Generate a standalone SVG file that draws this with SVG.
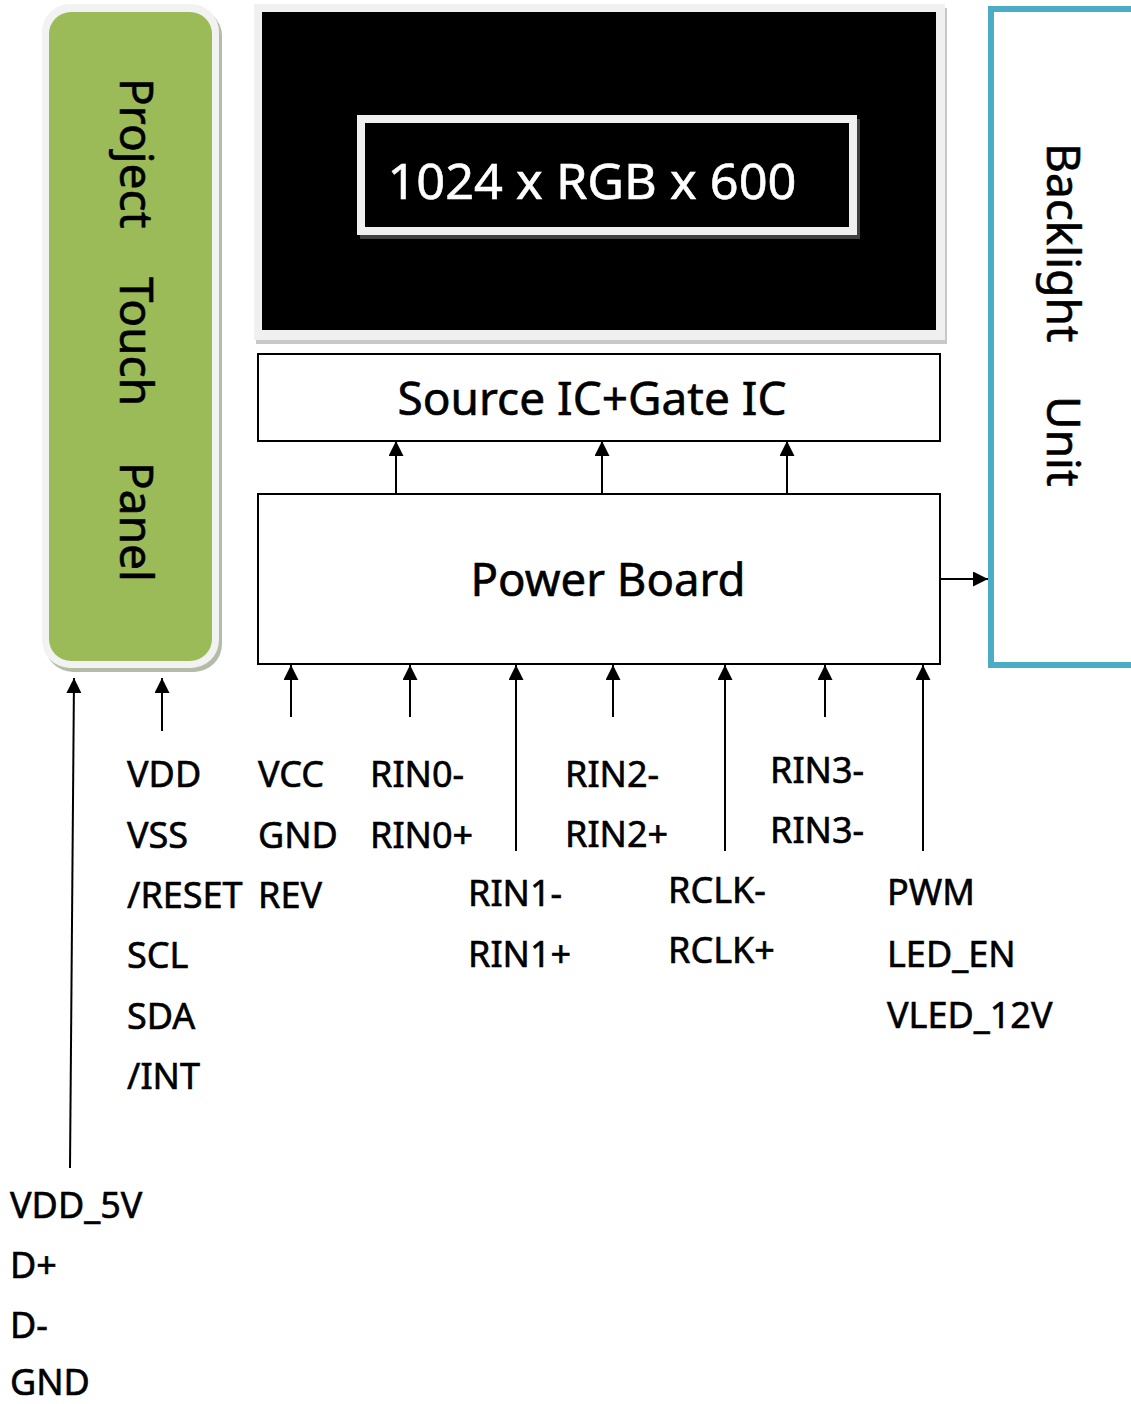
<svg xmlns="http://www.w3.org/2000/svg" width="1131" height="1404" viewBox="0 0 1131 1404">
<defs>
<marker id="ah" markerUnits="userSpaceOnUse" markerWidth="15" markerHeight="15" viewBox="0 0 15 15" refX="15" refY="7.5" orient="auto">
<path d="M0,0 L15,7.5 L0,15 z" fill="#000"/>
</marker>
</defs>
<style>
text{font-family:"Noto Sans","Open Sans","Liberation Sans",sans-serif;fill:#000;stroke:#000;stroke-width:0.6}
.lbl{font-size:36px}
.big{font-size:46px}
.conn line{stroke:#000;stroke-width:2;marker-end:url(#ah)}
.box{fill:#fff;stroke:#000;stroke-width:2}
</style>
<rect width="1131" height="1404" fill="#fff"/>

<g id="touch-panel">
<rect x="45" y="8" width="177" height="664" rx="28" fill="#b3bca6"/>
<rect x="42" y="4" width="177" height="664" rx="28" fill="#f2f2f2"/>
<rect x="49" y="12" width="163" height="649" rx="22" fill="#9bbb59"/>
<text class="big" transform="translate(120,78) rotate(90)">Project</text>
<text class="big" transform="translate(120,277) rotate(90)">Touch</text>
<text class="big" transform="translate(120,462) rotate(90)">Panel</text>
</g>

<g id="lcd">
<rect x="256" y="8" width="691" height="336" fill="#c8c8c8"/>
<rect x="254" y="4" width="691" height="336" fill="#f0f0f0"/>
<rect x="262" y="12" width="674" height="318" fill="#000"/>
<rect x="364" y="123" width="492" height="112" fill="none" stroke="#404040" stroke-width="8"/>
<rect x="361" y="119" width="492" height="112" fill="#000" stroke="#f0f0f0" stroke-width="8"/>
<text x="592" y="199" text-anchor="middle" style="font-size:50px;fill:#fff;stroke:#fff" textLength="409" lengthAdjust="spacingAndGlyphs">1024 x RGB x 600</text>
</g>

<g id="source-gate-ic">
<rect class="box" x="258" y="354" width="682" height="87"/>
<text class="big" x="592" y="415" text-anchor="middle" textLength="389" lengthAdjust="spacingAndGlyphs">Source IC+Gate IC</text>
</g>

<g id="power-board">
<rect class="box" x="258" y="494" width="682" height="170"/>
<text class="big" x="608" y="596" text-anchor="middle" textLength="275" lengthAdjust="spacingAndGlyphs">Power Board</text>
</g>

<g id="backlight">
<rect x="991" y="9" width="160" height="656" fill="#fff" stroke="#4bacc6" stroke-width="6"/>
<text class="big" transform="translate(1047,143) rotate(90)">Backlight</text>
<text class="big" transform="translate(1047,396) rotate(90)">Unit</text>
</g>

<g id="connectors" class="conn">
<line x1="396" y1="494" x2="396" y2="441"/>
<line x1="602" y1="494" x2="602" y2="441"/>
<line x1="787" y1="494" x2="787" y2="441"/>
<line x1="940" y1="579" x2="988" y2="579"/>
<line x1="70" y1="1168" x2="74" y2="678"/>
<line x1="162" y1="731" x2="162" y2="678"/>
<line x1="291" y1="717" x2="291" y2="665"/>
<line x1="410" y1="717" x2="410" y2="665"/>
<line x1="516" y1="851" x2="516" y2="665"/>
<line x1="613" y1="717" x2="613" y2="665"/>
<line x1="725" y1="851" x2="725" y2="665"/>
<line x1="825" y1="717" x2="825" y2="665"/>
<line x1="923" y1="851" x2="923" y2="665"/>
</g>

<g id="labels" class="lbl">
<text class="lbl" x="127" y="787">VDD</text>
<text class="lbl" x="127" y="848">VSS</text>
<text class="lbl" x="127" y="908">/RESET</text>
<text class="lbl" x="127" y="968">SCL</text>
<text class="lbl" x="127" y="1029">SDA</text>
<text class="lbl" x="127" y="1089">/INT</text>
<text class="lbl" x="258" y="787">VCC</text>
<text class="lbl" x="258" y="848">GND</text>
<text class="lbl" x="258" y="908">REV</text>
<text class="lbl" x="370" y="787">RIN0-</text>
<text class="lbl" x="370" y="848">RIN0+</text>
<text class="lbl" x="468" y="906">RIN1-</text>
<text class="lbl" x="468" y="967">RIN1+</text>
<text class="lbl" x="565" y="787">RIN2-</text>
<text class="lbl" x="565" y="847">RIN2+</text>
<text class="lbl" x="770" y="783">RIN3-</text>
<text class="lbl" x="770" y="843">RIN3-</text>
<text class="lbl" x="668" y="903">RCLK-</text>
<text class="lbl" x="668" y="963">RCLK+</text>
<text class="lbl" x="887" y="905">PWM</text>
<text class="lbl" x="887" y="967">LED_EN</text>
<text class="lbl" x="887" y="1028">VLED_12V</text>
<text class="lbl" x="10" y="1218">VDD_5V</text>
<text class="lbl" x="10" y="1278">D+</text>
<text class="lbl" x="10" y="1338">D-</text>
<text class="lbl" x="10" y="1395">GND</text>
</g>
</svg>
